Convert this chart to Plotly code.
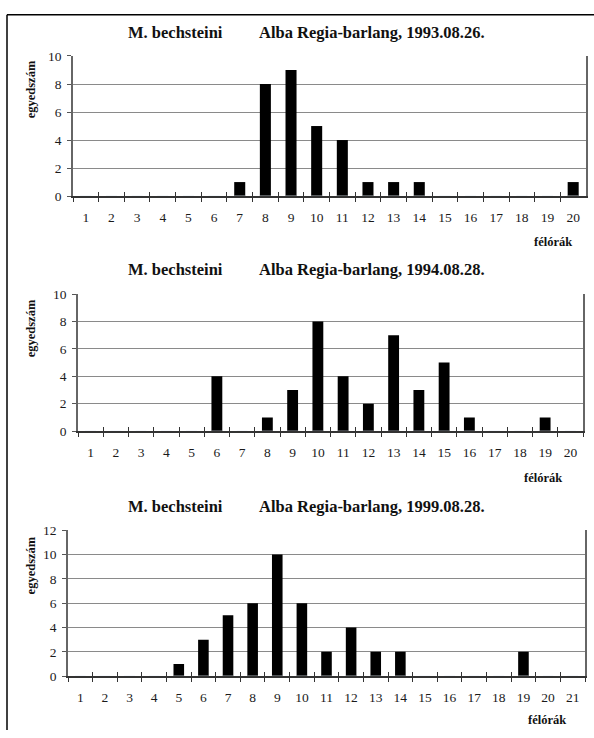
import plotly.graph_objects as go

W, H = 594, 738

species = "M. bechsteini"
site_titles = ["Alba Regia-barlang, 1993.08.26.",
               "Alba Regia-barlang, 1994.08.28.",
               "Alba Regia-barlang, 1999.08.28."]
cats1 = [str(i) for i in range(1, 21)]
vals1 = [0, 0, 0, 0, 0, 0, 1, 8, 9, 5, 4, 1, 1, 1, 0, 0, 0, 0, 0, 1]
cats2 = [str(i) for i in range(1, 21)]
vals2 = [0, 0, 0, 0, 0, 4, 0, 1, 3, 8, 4, 2, 7, 3, 5, 1, 0, 0, 1, 0]
cats3 = [str(i) for i in range(1, 22)]
vals3 = [0, 0, 0, 0, 1, 3, 5, 6, 10, 6, 2, 4, 2, 2, 0, 0, 0, 0, 2, 0, 0]
ymax = [10, 10, 12]
ytitle = "egyedszám"
xtitle = "félórák"

# pixel layout of each panel: left, right, top, bottom, title y, xtitle (x,y), ytitle center y
panels = [
    dict(l=73, r=586, t=50, b=193, ty=26, xtx=553, xty=240, yty=84),
    dict(l=78, r=583, t=293, b=433, ty=268, xtx=543, xty=481, yty=328),
    dict(l=68, r=585, t=534, b=683, ty=510, xtx=547, xty=728, yty=570),
]
data = [(cats1, vals1), (cats2, vals2), (cats3, vals3)]

def px(x):
    return x / W

def py(y):
    return 1 - y / H

fig = go.Figure()
serif = "Liberation Serif"
annotations = []
layout = {}
for i, (p, (cats, vals)) in enumerate(zip(panels, data)):
    n = i + 1
    xa = "x" if n == 1 else f"x{n}"
    ya = "y" if n == 1 else f"y{n}"
    fig.add_trace(go.Bar(x=cats, y=vals, xaxis=xa, yaxis=ya,
                         marker=dict(color="black", line=dict(width=0)),
                         showlegend=False))
    xkey = "xaxis" if n == 1 else f"xaxis{n}"
    ykey = "yaxis" if n == 1 else f"yaxis{n}"
    layout[xkey] = dict(
        domain=[px(p["l"]), px(p["r"])], anchor=ya, type="category",
        categoryorder="array", categoryarray=cats,
        tickson="boundaries", ticks="outside", ticklen=4, tickwidth=1,
        tickcolor="#333", showline=True, linecolor="#333", linewidth=1.5,
        showgrid=False, tickfont=dict(family=serif, size=13.5, color="#1a1a1a"),
        ticklabelstandoff=8, fixedrange=True,
    )
    # overlay axis for the inner part of crossing ticks
    on = n + 3
    okey = f"xaxis{on}"
    layout[okey] = dict(
        domain=[px(p["l"]), px(p["r"])], anchor=ya, overlaying=xa,
        matches=xa, type="category", categoryorder="array", categoryarray=cats,
        tickson="boundaries", ticks="inside", ticklen=4, tickwidth=1,
        tickcolor="#333", showticklabels=False, showline=False, showgrid=False,
    )
    fig.add_trace(go.Bar(x=cats, y=[0] * len(cats), xaxis=f"x{on}", yaxis=ya,
                         marker=dict(color="rgba(0,0,0,0)"), showlegend=False,
                         hoverinfo="skip"))
    layout[ykey] = dict(
        domain=[py(p["b"]), py(p["t"])], anchor=xa, range=[0, ymax[i]],
        dtick=2, ticks="outside", ticklen=4, tickcolor="#555",
        showline=True, linecolor="#666", linewidth=1.5, mirror=True,
        showgrid=True, gridcolor="#8a8a8a", gridwidth=1, zeroline=False,
        tickfont=dict(family=serif, size=13.5, color="#1a1a1a"), fixedrange=True,
        ticklabelstandoff=3,
    )
    annotations.append(dict(text=f"<b>{species}</b>", x=px(175.5), y=py(p["ty"]),
                            xref="paper", yref="paper", showarrow=False,
                            xanchor="center", yanchor="middle",
                            font=dict(family=serif, size=16.5, color="#111")))
    annotations.append(dict(text=f"<b>{site_titles[i]}</b>", x=px(257), y=py(p["ty"]),
                            xref="paper", yref="paper", showarrow=False,
                            xanchor="left", yanchor="middle",
                            font=dict(family=serif, size=16.5, color="#111")))
    annotations.append(dict(text=f"<b>{xtitle}</b>", x=px(p["xtx"]), y=py(p["xty"]),
                            xref="paper", yref="paper", showarrow=False,
                            xanchor="center", yanchor="middle",
                            font=dict(family=serif, size=12.5, color="#111")))
    annotations.append(dict(text=f"<b>{ytitle}</b>", x=px(31), y=py(p["yty"]),
                            xref="paper", yref="paper", showarrow=False,
                            textangle=-90, xanchor="center", yanchor="middle",
                            font=dict(family=serif, size=12.5, color="#111")))

shapes = [
    dict(type="line", xref="paper", yref="paper", x0=px(7), x1=px(7), y0=py(8), y1=0,
         line=dict(color="black", width=1.5)),
    dict(type="line", xref="paper", yref="paper", x0=px(7), x1=1, y0=py(8), y1=py(8),
         line=dict(color="black", width=1.5)),
]

fig.update_layout(
    width=W, height=H, margin=dict(l=0, r=0, t=0, b=0),
    paper_bgcolor="white", plot_bgcolor="white",
    bargap=0.57, barmode="overlay",
    annotations=annotations, shapes=shapes, **layout,
)
fig.write_html("out.html", config={"displayModeBar": False},
               post_script="document.body.style.margin='0';document.body.style.overflow='hidden';")
